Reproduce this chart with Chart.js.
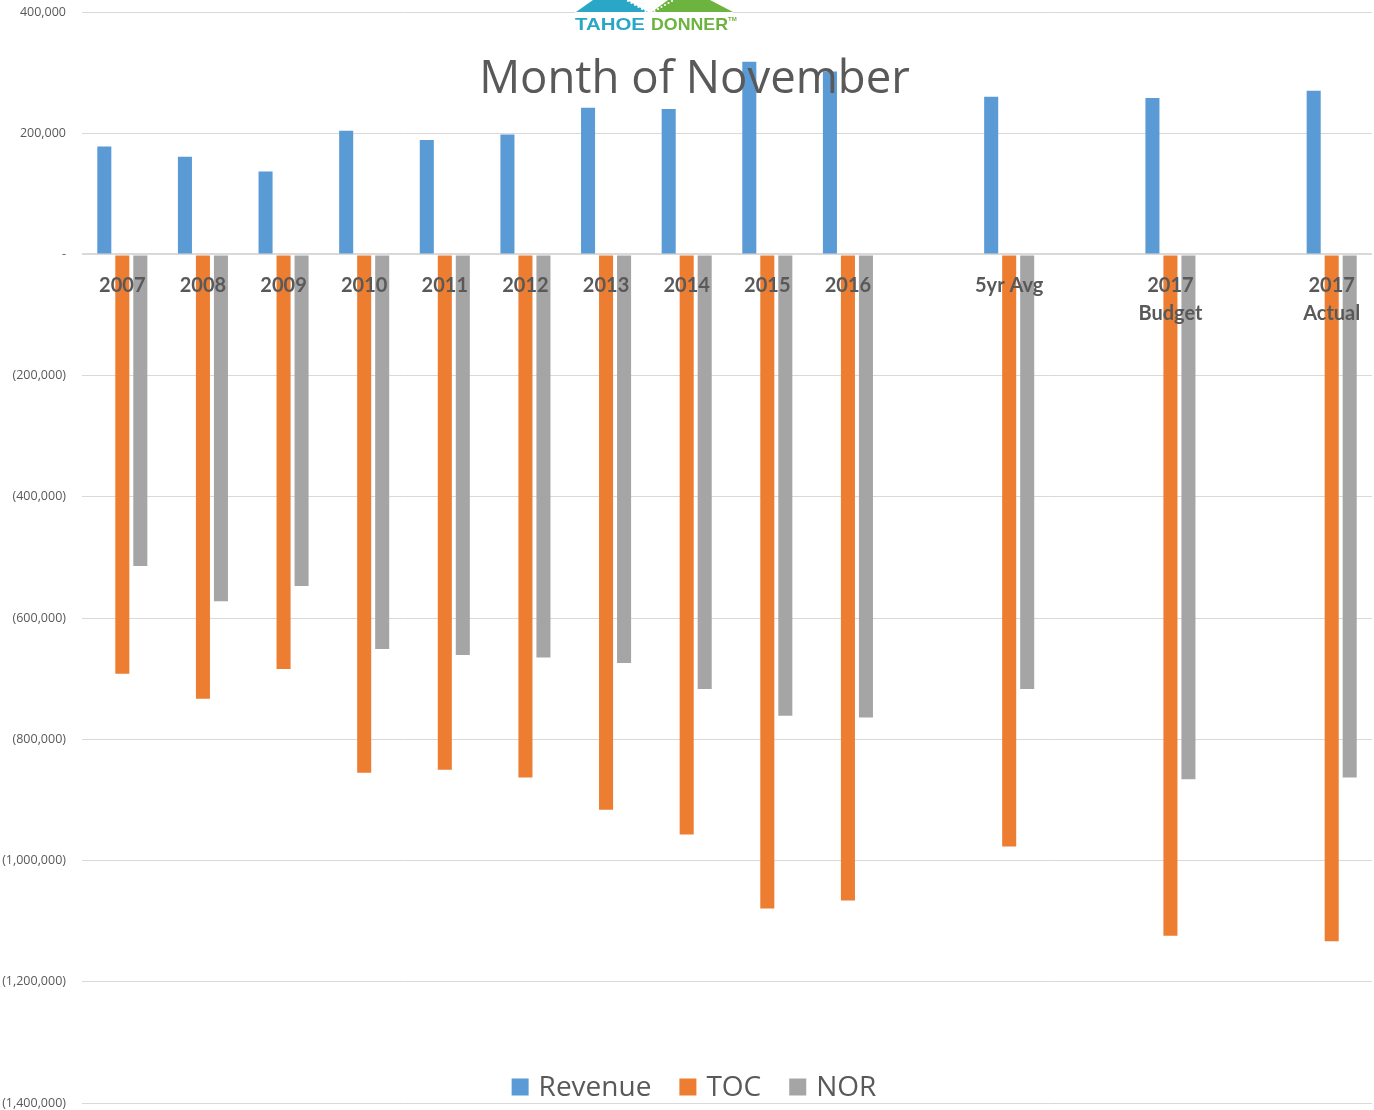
<!DOCTYPE html>
<html><head><meta charset="utf-8">
<script src="https://cdn.jsdelivr.net/npm/chart.js@4.4.1/dist/chart.umd.min.js"></script>
<style>html,body{margin:0;padding:0;background:#fff}#wrap{width:1374px;height:1110px;position:relative}</style>
</head><body><div id="wrap"><canvas id="c"></canvas></div>
<script>
const categories = [["2007"],["2008"],["2009"],["2010"],["2011"],["2012"],["2013"],["2014"],["2015"],["2016"],[""],["5yr Avg"],[""],["2017","Budget"],[""],["2017","Actual"]];
const revenue = [178000,161000,137000,204000,189000,198000,242000,240000,318000,302000,null,260000,null,258000,null,270000];
const toc = [-692000,-733000,-684000,-855000,-850000,-863000,-916000,-957000,-1079000,-1066000,null,-977000,null,-1124000,null,-1133000];
const nor = [-514000,-572000,-547000,-651000,-661000,-665000,-674000,-717000,-761000,-764000,null,-717000,null,-866000,null,-863000];
const seriesNames = ["Revenue","TOC","NOR"];
const seriesColors = ["#5B9BD5","#ED7D31","#A5A5A5"];
const yMin = -1400000, yMax = 400000, yStep = 200000;
const titleText = "Month of November";
const logoWords = ["TAHOE","DONNER"];

const fmt = v => Math.abs(v).toLocaleString('en-US');

const overlayPlugin = {
  id: 'overlay',
  afterDraw(chart) {
    const ctx = chart.ctx;
    ctx.save();
    // logo
    ctx.fillStyle = '#fff';
    ctx.fillRect(575, 0, 158, 40);
    ctx.fillStyle = '#2aa7c6';
    ctx.beginPath(); ctx.moveTo(576,12); ctx.lineTo(593,0); ctx.lineTo(627,0); ctx.lineTo(648,12); ctx.closePath(); ctx.fill();
    ctx.fillStyle = '#6db33f';
    ctx.beginPath(); ctx.moveTo(652,12); ctx.lineTo(668,0); ctx.lineTo(710,0); ctx.lineTo(733,12); ctx.closePath(); ctx.fill();
    ctx.fillStyle = '#fff';
    for (let i = 0; i < 6; i++) { ctx.beginPath(); ctx.arc(628 + i*3.5, 1 + i*2, 1.1, 0, 6.3); ctx.fill(); }
    for (let i = 0; i < 6; i++) { ctx.beginPath(); ctx.arc(672 - i*3.5, 1 + i*2, 1.1, 0, 6.3); ctx.fill(); }
    ctx.font = 'bold 17px "Liberation Sans"';
    ctx.textBaseline = 'alphabetic';
    ctx.textAlign = 'left';
    const drawFit = (txt, x, w, color) => {
      const m = ctx.measureText(txt).width;
      ctx.save(); ctx.translate(x, 30); ctx.scale(w / m, 1); ctx.fillStyle = color; ctx.fillText(txt, 0, 0); ctx.restore();
    };
    drawFit(logoWords[0], 575, 70, '#2aa7c6');
    drawFit(logoWords[1], 651, 77, '#6db33f');
    ctx.font = 'bold 6px "Liberation Sans"'; ctx.fillStyle = '#6db33f'; ctx.fillText('TM', 728, 21);
    // title
    ctx.font = '45px "Open Sans"';
    let tw = ctx.measureText(titleText).width;
    const size = 45 * 431 / tw;
    ctx.font = size.toFixed(1) + 'px "Open Sans"';
    ctx.fillStyle = '#595959';
    ctx.textAlign = 'center';
    ctx.fillText(titleText, 694.5, 93);
    // legend
    ctx.font = '28px "Open Sans"';
    ctx.textAlign = 'left';
    ctx.textBaseline = 'middle';
    const box = 17, gapT = 10, gapI = 28;
    const items = chart.data.datasets.map(d => ({ label: d.label, color: d.backgroundColor, w: ctx.measureText(d.label).width }));
    let total = items.reduce((s, it) => s + box + gapT + it.w, 0) + gapI * (items.length - 1);
    let x = 694 - total / 2;
    const yc = 1087;
    items.forEach(it => {
      ctx.fillStyle = it.color;
      ctx.fillRect(x, yc - box/2, box, box);
      x += box + gapT;
      ctx.fillStyle = '#595959';
      ctx.fillText(it.label, x, yc + 1);
      x += it.w + gapI;
    });
    ctx.restore();
  }
};

new Chart(document.getElementById('c'), {
  type: 'bar',
  data: {
    labels: categories,
    datasets: [
      { label: seriesNames[0], data: revenue, backgroundColor: seriesColors[0] },
      { label: seriesNames[1], data: toc, backgroundColor: seriesColors[1] },
      { label: seriesNames[2], data: nor, backgroundColor: seriesColors[2] }
    ]
  },
  options: {
    responsive: true,
    maintainAspectRatio: false,
    animation: false,
    layout: { padding: { top: 12, right: 2, bottom: 7, left: 0 } },
    datasets: { bar: { categoryPercentage: 0.67, barPercentage: 0.78 } },
    plugins: { legend: { display: false }, title: { display: false }, tooltip: { enabled: false } },
    scales: {
      x: {
        position: { y: 0 },
        offset: true,
        grid: { display: false, drawTicks: false },
        border: { display: false },
        ticks: { z: 1, color: '#595959', font: { family: 'Lato', weight: 'bold', size: 20, lineHeight: 1.4 }, padding: 17, maxRotation: 0, autoSkip: false },
        afterFit: s => { s.paddingLeft = 0; s.paddingRight = 0; }
      },
      y: {
        min: yMin, max: yMax,
        ticks: { stepSize: yStep, color: '#595959', font: { family: 'Open Sans', size: 12.5 }, padding: 16,
          callback: v => v === 0 ? '-' : (v < 0 ? '(' + fmt(v) + ')' : fmt(v)) },
        grid: { color: '#d9d9d9', lineWidth: c => (c.tick && c.tick.value === 0) ? 2 : 1, drawTicks: false },
        border: { display: false },
        afterFit: s => { s.width = 82; s.paddingTop = 0; s.paddingBottom = 0; }
      }
    }
  },
  plugins: [overlayPlugin]
});
</script>
</body></html>
